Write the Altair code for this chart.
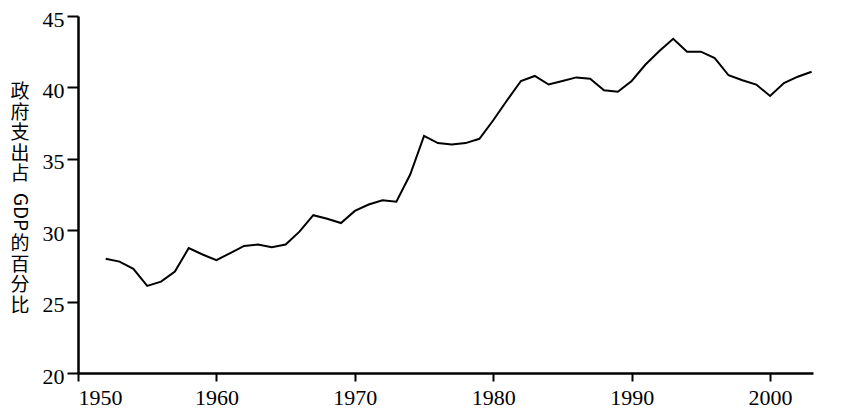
import altair as alt
import pandas as pd

years = list(range(1952, 2004))
share = [
    28.0, 27.8, 27.3, 26.1, 26.4, 27.1, 28.75, 28.3, 27.9, 28.4,
    28.9, 29.0, 28.8, 29.0, 29.9, 31.05, 30.8, 30.5, 31.35, 31.8,
    32.1, 32.0, 33.9, 36.6, 36.1, 36.0, 36.1, 36.4, 37.7, 39.1,
    40.45, 40.8, 40.2, 40.45, 40.7, 40.6, 39.8, 39.7, 40.45, 41.6,
    42.55, 43.4, 42.5, 42.5, 42.05, 40.85, 40.5, 40.2, 39.4, 40.3,
    40.75, 41.1,
]
x_ticks = [1950, 1960, 1970, 1980, 1990, 2000]
y_ticks = [20, 25, 30, 35, 40, 45]
title_top = ["政", "府", "支", "出", "占"]
title_mid = "GDP"
title_bottom = ["的", "百", "分", "比"]

df = pd.DataFrame({"year": years, "share": share})
one = pd.DataFrame({"k": [0]})

line = alt.Chart(df).mark_line(color="black", strokeWidth=2).encode(
    x=alt.X(
        "year:Q",
        scale=alt.Scale(domain=[1950, 2003.1], nice=False, zero=False),
        axis=alt.Axis(
            values=x_ticks, format="d", title=None, grid=False,
            tickSize=8, labelPadding=6, labelFontSize=22,
            labelFont="Liberation Serif",
        ),
    ),
    y=alt.Y(
        "share:Q",
        scale=alt.Scale(domain=[20, 45], nice=False, zero=False),
        axis=alt.Axis(
            values=y_ticks, title=None, grid=False,
            tickSize=11, labelPadding=3, labelFontSize=22,
            labelFont="Liberation Serif", labelOffset=3,
        ),
    ),
)

tfont = "Noto Sans CJK SC"
t1 = alt.Chart(one).mark_text(
    text=title_top, lineHeight=20.6, baseline="top", align="center",
    fontSize=19, font=tfont, color="black",
).encode(x=alt.value(-58), y=alt.value(67))
t2 = alt.Chart(one).mark_text(
    text=title_mid, baseline="middle", align="center",
    fontSize=19, font=tfont, color="black",
).encode(x=alt.value(-58), y=alt.value(196), angle=alt.value(90))
t3 = alt.Chart(one).mark_text(
    text=title_bottom, lineHeight=20.6, baseline="top", align="center",
    fontSize=19, font=tfont, color="black",
).encode(x=alt.value(-58), y=alt.value(219))

chart = alt.layer(line, t1, t2, t3).properties(
    width=735, height=357,
    autosize=alt.AutoSizeParams(type="none"),
    padding={"left": 70, "top": 8, "right": 20, "bottom": 39},
).configure_view(stroke=None).configure_axis(
    domainColor="black", domainWidth=2.5, tickColor="black", tickWidth=2,
    labelColor="black",
)

chart.save("out.html", embed_options={"renderer": "svg", "actions": False})
